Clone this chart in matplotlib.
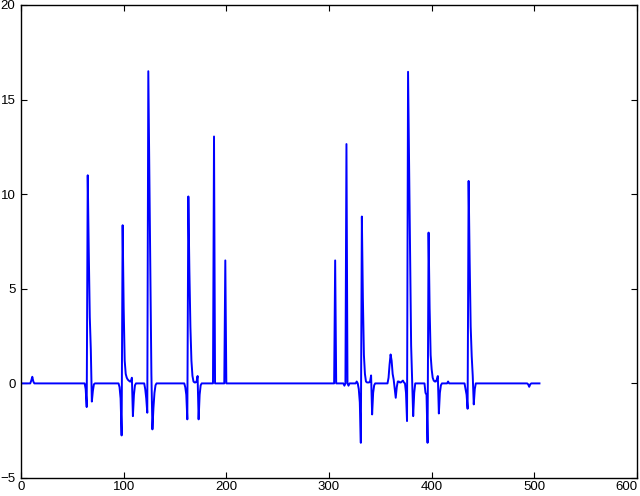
import numpy as np
import matplotlib
matplotlib.use("Agg")
import matplotlib.pyplot as pyplot

N_SAMPLES = 506

# each event: (index of first sample, consecutive sample values); the rest is 0
bump_start = (10, [0.15, 0.35, 0.1])
beat_a = (63, [-0.3, -1.25, 11.0, 7.0, 3.5, 1.8, -0.96, -0.4, -0.05])
beat_b = (96, [-0.2, -0.8, -2.75, 8.36, 4.0, 1.2, 0.5, 0.3, 0.2, 0.15, 0.1, 0.1, 0.3, -1.73, -0.6, -0.1])
beat_c = (121, [-0.3, -0.8, -1.55, 16.5, 11.0, 5.5, 0.5, -2.43, -1.3, -0.5, -0.1])
beat_d = (160, [-0.2, -0.6, -1.9, 9.88, 6.0, 3.0, 1.2, 0.4, 0.1, 0.05, 0.05, 0.1, 0.39, -1.9, -0.6, -0.1])
spike_e = (188, [13.05])
spike_f = (199, [6.5])
spike_g = (306, [6.5])
spike_h = (315, [-0.12, 0.0, 12.65, 0.0, -0.12])
beat_i = (327, [0.1, 0.0, -0.3, -1.0, -3.14, 8.82, 4.5, 1.5, 0.5, 0.1, 0.05, 0.05, 0.05, 0.1, 0.42, -1.64, -0.5, -0.1])
wave_j = (358, [0.3, 1.0, 1.53, 1.2, 0.5, 0.2, -0.3, -0.76, -0.2, 0.1, 0.1, 0.05, 0.05, 0.1, 0.15, 0.05])
beat_k = (375, [-0.5, -1.99, 16.47, 11.5, 6.5, 2.0, 0.2, -1.73, -0.5])
beat_l = (394, [-0.5, -0.6, -3.14, 7.97, 4.0, 1.5, 0.74, 0.3, 0.15, 0.1, 0.1, 0.2, 0.39, -1.59, -0.5, -0.1])
bump_l = (416, [0.1])
beat_m = (433, [-0.3, -0.6, -1.34, 10.7, 6.5, 3.0, 1.44, 0.4, -1.11, -0.3])
dip_end = (494, [-0.05, -0.18, -0.05])

events = [bump_start, beat_a, beat_b, beat_c, beat_d, spike_e, spike_f, spike_g,
          spike_h, beat_i, wave_j, beat_k, beat_l, bump_l, beat_m, dip_end]

signal = np.zeros(N_SAMPLES)
for start, values in events:
    signal[start:start + len(values)] = values

x_ticks = [0, 100, 200, 300, 400, 500, 600]
y_ticks = [-5, 0, 5, 10, 15, 20]

pyplot.rcParams["font.family"] = ["Liberation Sans", "DejaVu Sans"]
pyplot.rcParams["axes.unicode_minus"] = True

fig = pyplot.figure(figsize=(6.4, 4.96), dpi=100, facecolor="white")
ax = fig.add_axes([21 / 640, 18 / 496, 616 / 640, 473 / 496])

ax.plot(np.arange(N_SAMPLES), signal, color="#0000ff", linewidth=1.4)

ax.set_xlim(0, 600)
ax.set_ylim(-5, 20)
ax.set_xticks(x_ticks)
ax.set_yticks(y_ticks)
ax.tick_params(direction="in", top=True, right=True, length=4, width=0.8,
               labelsize=9.5)
ax.tick_params(axis="x", pad=2)
ax.tick_params(axis="y", pad=4)
for spine in ax.spines.values():
    spine.set_linewidth(1.0)

# the last x label sits against the right edge, as in the reference
ax.get_xticklabels()[-1].set_horizontalalignment("right")

fig.savefig("out.png", dpi=100, facecolor="white")
